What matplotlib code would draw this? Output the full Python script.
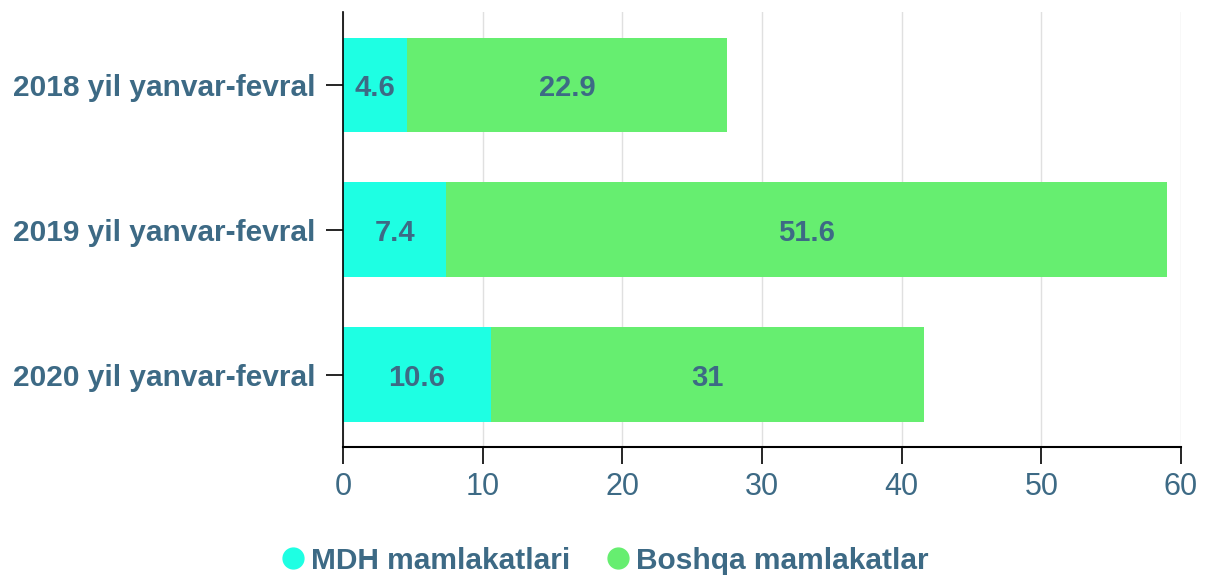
import matplotlib.pyplot as plt
from matplotlib.lines import Line2D

plt.rcParams['font.family'] = ['Liberation Sans', 'DejaVu Sans']

categories = ['2018 yil yanvar-fevral', '2019 yil yanvar-fevral', '2020 yil yanvar-fevral']
mdh = [4.6, 7.4, 10.6]
boshqa = [22.9, 51.6, 31]
series_names = ['MDH mamlakatlari', 'Boshqa mamlakatlar']
xticks = [0, 10, 20, 30, 40, 50, 60]

text_color = '#3d6a85'
c_mdh = '#1effe3'
c_other = '#66ee70'

fig = plt.figure(figsize=(12.07, 5.78), dpi=100)
ax = fig.add_axes([0.2842, 0.2266, 0.6943, 0.7524])

ypos = list(range(len(categories)))
ax.barh(ypos, mdh, height=0.65, color=c_mdh)
ax.barh(ypos, boshqa, left=mdh, height=0.65, color=c_other)

for i in ypos:
    ax.text(mdh[i] / 2, i, '{:g}'.format(mdh[i]), ha='center', va='center_baseline',
            fontsize=21, fontweight='bold', color=text_color)
    ax.text(mdh[i] + boshqa[i] / 2, i, '{:g}'.format(boshqa[i]), ha='center', va='center_baseline',
            fontsize=21, fontweight='bold', color=text_color)

ax.set_xlim(0, 60)
ax.set_ylim(2.5, -0.5)
ax.set_xticks(xticks)
ax.set_yticks(ypos)
ax.set_yticklabels(categories, fontsize=21.5, fontweight='bold', color=text_color)
ax.tick_params(axis='x', labelsize=22, labelcolor=text_color, length=12, width=1.2, color='black', pad=6)
ax.tick_params(axis='y', length=12, width=1.2, color='black', pad=8)
ax.grid(axis='x', color='#e0e0e0', linewidth=1)
ax.set_axisbelow(True)
for s in ['top', 'right']:
    ax.spines[s].set_visible(False)
ax.spines['left'].set_linewidth(1.2)
ax.spines['bottom'].set_linewidth(1.5)

handles = [Line2D([], [], marker='o', linestyle='', markersize=15, color=c_mdh),
           Line2D([], [], marker='o', linestyle='', markersize=15, color=c_other)]
leg = fig.legend(handles, series_names, loc='center', bbox_to_anchor=(0.5, 0.03), ncol=2,
                 frameon=False, handletextpad=0.1, columnspacing=1.1, handlelength=1.0,
                 prop={'size': 21.5, 'weight': 'bold'})
for t in leg.get_texts():
    t.set_color(text_color)

fig.savefig('out.png', dpi=100)
